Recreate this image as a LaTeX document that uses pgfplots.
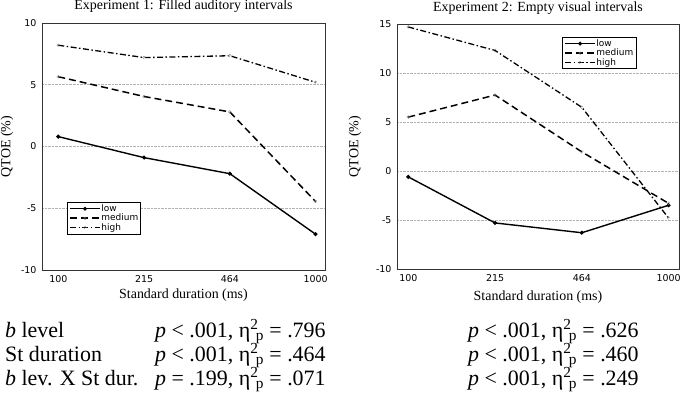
\documentclass[border=0pt]{standalone}
\usepackage{pgfplots}
\pgfplotsset{compat=1.18}
\usepackage{amsmath}
\usepackage{fontspec}
\setmainfont{Liberation Serif}
\setsansfont{DejaVu Sans}

\newcommand{\etap}{η\textsuperscript{2}\kern-0.12em\textsubscript{p}}

\pgfplotsset{
  qtoe/.style={
    scale only axis,
    xtick={0,1,2,3}, xticklabels={100,215,464,1000},
    ymajorgrids, grid style={gray!60, densely dotted, line width=0.6pt},
    major tick length=0pt,
    axis line style={line width=0.9pt, black!80},
    tick label style={font=\sffamily\fontsize{9.5}{10}\selectfont},
    xticklabel style={yshift=-2pt},
    yticklabel style={xshift=-2pt},
    /pgf/number format/assume math mode=true,
    xlabel={Standard duration (ms)}, ylabel={QTOE (\%)},
    label style={font=\fontsize{14}{16}\selectfont},
    legend style={font=\sffamily\fontsize{9}{10}\selectfont, draw=black,
      line width=0.8pt, inner xsep=2pt, inner ysep=1.5pt,
      nodes={inner sep=0.6pt}, row sep=0pt},
    legend cell align=left,
    legend image code/.code={
      \draw[mark repeat=2, mark phase=2, #1]
        plot coordinates {(0bp,0bp) (15bp,0bp) (30bp,0bp)};},
    every axis plot/.append style={every mark/.append style={solid}},
  },
  low/.style={black, line width=1.4pt, mark=*, mark size=1.2pt},
  med/.style={black, line width=1.5pt, dash pattern=on 7pt off 4pt,
    mark=o, mark size=1.4pt, mark options={draw=gray, fill=white, line width=0.4pt}},
  high/.style={black, line width=1.3pt, dash pattern=on 6pt off 2.5pt on 1.5pt off 2.5pt,
    mark=o, mark size=1.4pt, mark options={draw=gray, fill=white, line width=0.4pt}},
}

\begin{document}
\begin{tikzpicture}
\path[use as bounding box] (0,0) rectangle (685bp,-405bp);

% Experiment 1
\begin{axis}[qtoe,
  at={(42bp,-270bp)}, anchor=south west,
  width=283bp, height=247bp,
  xmin=-0.19, xmax=3.11,
  ymin=-10, ymax=10, ytick={-10,-5,0,5,10},
  title={Experiment 1: Filled auditory intervals},
  every axis title/.style={at={(axis description cs:0.5,1.053)}, anchor=base,
    font=\fontsize{14}{16}\selectfont},
  xlabel style={at={(axis description cs:0.5,-0.117)}, anchor=base},
  ylabel style={at={(axis description cs:-0.124,0.5)}, anchor=center},
  legend style={at={(axis description cs:0.088,0.275)}, anchor=north west},
]
\addplot[low] coordinates {(0,0.8)(1,-0.9)(2,-2.2)(3,-7.1)};
\addlegendentry{low}
\addplot[med] coordinates {(0,5.65)(1,4.05)(2,2.8)(3,-4.45)};
\addlegendentry{medium}
\addplot[high] coordinates {(0,8.2)(1,7.2)(2,7.35)(3,5.2)};
\addlegendentry{high}
\end{axis}

% Experiment 2
\begin{axis}[qtoe,
  at={(397bp,-269bp)}, anchor=south west,
  width=282bp, height=245bp,
  xmin=-0.13, xmax=3.12,
  ymin=-10, ymax=15, ytick={-10,-5,0,5,10,15},
  title={Experiment 2: Empty visual intervals},
  every axis title/.style={at={(axis description cs:0.5,1.049)}, anchor=base,
    font=\fontsize{14}{16}\selectfont},
  xlabel style={at={(axis description cs:0.5,-0.127)}, anchor=base},
  ylabel style={at={(axis description cs:-0.149,0.5)}, anchor=center},
  legend style={at={(axis description cs:0.585,0.947)}, anchor=north west},
]
\addplot[low] coordinates {(0,-0.6)(1,-5.3)(2,-6.3)(3,-3.5)};
\addlegendentry{low}
\addplot[med] coordinates {(0,5.5)(1,7.75)(2,1.95)(3,-3.3)};
\addlegendentry{medium}
\addplot[high] coordinates {(0,14.7)(1,12.3)(2,6.5)(3,-4.8)};
\addlegendentry{high}
\end{axis}

% statistics below the panels
\begin{scope}[every node/.style={anchor=base west, inner sep=0pt, font=\fontsize{22}{24}\selectfont}]
\node at (5bp,-337bp) {\textit{b} level};
\node at (155bp,-337bp) {\textit{p} < .001, \etap{} = .796};
\node at (468bp,-337bp) {\textit{p} < .001, \etap{} = .626};
\node at (5bp,-361bp) {St duration};
\node at (155bp,-361bp) {\textit{p} < .001, \etap{} = .464};
\node at (468bp,-361bp) {\textit{p} < .001, \etap{} = .460};
\node at (5bp,-385bp) {\textit{b} lev. X St dur.};
\node at (155bp,-385bp) {\textit{p} = .199, \etap{} = .071};
\node at (468bp,-385bp) {\textit{p} < .001, \etap{} = .249};
\end{scope}
\end{tikzpicture}
\end{document}
